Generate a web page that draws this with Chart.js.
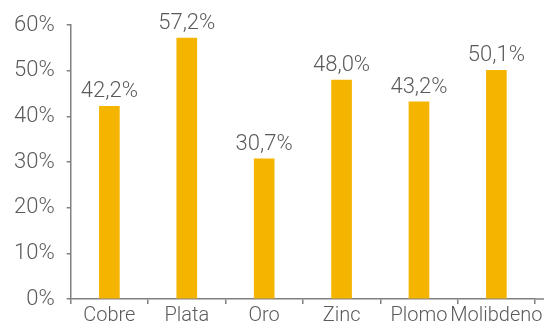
<!DOCTYPE html>
<html>
<head>
<meta charset="utf-8">
<script src="https://cdn.jsdelivr.net/npm/chart.js@4/dist/chart.umd.min.js"></script>
<style>
  html, body { margin: 0; padding: 0; background: #fff; }
  #wrap { width: 544px; height: 327px; }
</style>
</head>
<body>
<div id="wrap"><canvas id="chart" width="544" height="327"></canvas></div>
<script>
var metales = ["Cobre", "Plata", "Oro", "Zinc", "Plomo", "Molibdeno"];
var participacion = [42.2, 57.2, 30.7, 48.0, 43.2, 50.1];
var ejeY = [0, 10, 20, 30, 40, 50, 60];

var gris = "#5a5a5a";
var lineaEje = "#808080";
var naranja = "#F5B400";

// etiquetas de valor sobre las barras
var etiquetas = {
    id: "etiquetas",
    afterDatasetsDraw: function (chart) {
        var ctx = chart.ctx;
        var meta = chart.getDatasetMeta(0);
        ctx.save();
        ctx.font = "300 22px Roboto";
        ctx.fillStyle = gris;
        ctx.textAlign = "center";
        ctx.textBaseline = "alphabetic";
        meta.data.forEach(function (bar, i) {
            var txt = participacion[i].toFixed(1).replace(".", ",") + "%";
            ctx.fillText(txt, bar.x, bar.y - 9);
        });
        ctx.restore();
    }
};

// el eje x sigue hasta el borde derecho
var ejeLargo = {
    id: "ejeLargo",
    afterDraw: function (chart) {
        var ctx = chart.ctx;
        var area = chart.chartArea;
        ctx.save();
        ctx.strokeStyle = lineaEje;
        ctx.lineWidth = 1.5;
        ctx.beginPath();
        ctx.moveTo(area.right, area.bottom);
        ctx.lineTo(chart.width, area.bottom);
        ctx.stroke();
        ctx.restore();
    }
};

new Chart(document.getElementById("chart").getContext("2d"), {
    type: "bar",
    data: {
        labels: metales,
        datasets: [{
            data: participacion,
            backgroundColor: naranja,
            barThickness: 20
        }]
    },
    options: {
        responsive: false,
        animation: false,
        layout: { padding: { top: 14, left: 2, right: 6, bottom: 0 } },
        plugins: {
            legend: { display: false },
            tooltip: { enabled: false }
        },
        scales: {
            x: {
                offset: true,
                grid: {
                    offset: true,
                    drawOnChartArea: false,
                    tickLength: 5,
                    lineWidth: 1.5,
                    tickColor: function (c) {
                        return c.index === metales.length ? "rgba(0,0,0,0)" : lineaEje;
                    }
                },
                border: { color: lineaEje, width: 1.5 },
                ticks: {
                    color: gris,
                    font: { family: "Roboto", size: 20, weight: 300, lineHeight: 1.05 },
                    padding: 1,
                    maxRotation: 0,
                    autoSkip: false
                }
            },
            y: {
                min: ejeY[0],
                max: ejeY[ejeY.length - 1],
                grid: {
                    drawOnChartArea: false,
                    tickLength: 4,
                    lineWidth: 1.5,
                    color: lineaEje
                },
                border: { color: lineaEje, width: 1.5 },
                afterBuildTicks: function (axis) {
                    axis.ticks = ejeY.map(function (v) { return { value: v }; });
                },
                ticks: {
                    color: gris,
                    font: { family: "Roboto", size: 22, weight: 300 },
                    padding: 12,
                    callback: function (v) { return v + "%"; }
                }
            }
        }
    },
    plugins: [etiquetas, ejeLargo]
});
</script>
</body>
</html>
